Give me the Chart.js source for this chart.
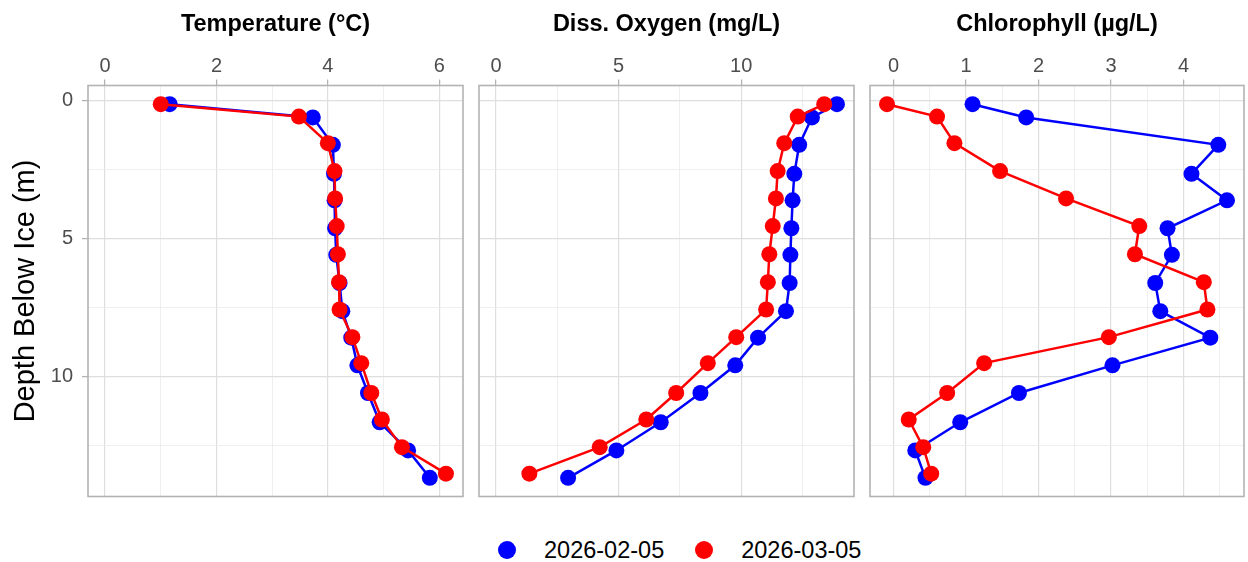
<!DOCTYPE html>
<html>
<head>
<meta charset="utf-8">
<script src="https://cdn.jsdelivr.net/npm/chart.js@4.4.1/dist/chart.umd.min.js"></script>
<style>
  body { margin: 0; background: #fff; }
  #wrap { position: relative; width: 1248px; height: 562px; font-family: "Liberation Sans", Arial, sans-serif; }
  #wrap canvas { position: absolute; top: 0; }
  #legend { position: absolute; left: 498px; top: 538px; display: flex; align-items: center; font-size: 23.5px; line-height: 24px; color: #000; }
  .item { display: flex; align-items: center; margin-right: 31px; }
  .dot { width: 18px; height: 18px; border-radius: 50%; margin-right: 28px; }
</style>
</head>
<body>
<div id="wrap">
  <canvas id="c-temp" width="470" height="500" style="left:0px"></canvas>
  <canvas id="c-do" width="390" height="500" style="left:471px"></canvas>
  <canvas id="c-chl" width="386" height="500" style="left:862px"></canvas>
  <div id="legend"></div>
</div>
<script>
// sampling dates and colours
const dates = ['2026-02-05', '2026-03-05'];
const colors = ['#0000ff', '#ff0000'];

// depth below ice (m) for each profile
const depthFeb = [0.14, 0.62, 1.61, 2.66, 3.62, 4.63, 5.59, 6.61, 7.63, 8.59, 9.59, 10.59, 11.65, 12.67, 13.66];
const depthMar = [0.14, 0.59, 1.55, 2.56, 3.55, 4.55, 5.57, 6.58, 7.57, 8.57, 9.51, 10.59, 11.55, 12.55, 13.51];

// temperature (°C)
const tempFeb = [1.16, 3.73, 4.09, 4.11, 4.12, 4.13, 4.15, 4.21, 4.26, 4.42, 4.53, 4.72, 4.93, 5.44, 5.83];
const tempMar = [1.00, 3.48, 4.00, 4.12, 4.13, 4.16, 4.18, 4.20, 4.21, 4.44, 4.60, 4.78, 4.97, 5.33, 6.12];

// dissolved oxygen (mg/L)
const doFeb = [13.91, 12.89, 12.37, 12.17, 12.10, 12.05, 12.01, 11.98, 11.83, 10.69, 9.76, 8.34, 6.72, 4.91, 2.94];
const doMar = [13.39, 12.31, 11.76, 11.49, 11.42, 11.29, 11.15, 11.09, 11.02, 9.80, 8.64, 7.35, 6.13, 4.23, 1.36];

// chlorophyll (µg/L)
const chlFeb = [1.09, 1.83, 4.48, 4.11, 4.60, 3.78, 3.84, 3.61, 3.68, 4.37, 3.02, 1.73, 0.92, 0.30, 0.44];
const chlMar = [-0.09, 0.60, 0.84, 1.47, 2.38, 3.39, 3.33, 4.28, 4.33, 2.97, 1.25, 0.74, 0.21, 0.41, 0.52];

// grid breaks and labelled breaks
const depthTicks = [0, 2.5, 5, 7.5, 10, 12.5];
const depthLabels = [0, 5, 10];
const tempTicks = [0, 1, 2, 3, 4, 5, 6];
const tempLabels = [0, 2, 4, 6];
const doTicks = [0, 2.5, 5, 7.5, 10, 12.5];
const doLabels = [0, 5, 10];
const chlTicks = [0, 0.5, 1, 1.5, 2, 2.5, 3, 3.5, 4, 4.5];
const chlLabels = [0, 1, 2, 3, 4];

const FONT = '"Liberation Sans", Arial, sans-serif';

// ggplot-like 5% expansion
function expand(vals, withZero) {
  let lo = Math.min(...vals), hi = Math.max(...vals);
  if (withZero) { lo = Math.min(lo, 0); hi = Math.max(hi, 0); }
  const pad = (hi - lo) * 0.05;
  return [lo - pad, hi + pad];
}

const yRange = expand(depthFeb.concat(depthMar), false);

function gridOpts(labels, ticksOn) {
  return {
    color: ctx => labels.includes(ctx.tick && ctx.tick.value) ? '#dedede' : '#ebebeb',
    lineWidth: ctx => labels.includes(ctx.tick && ctx.tick.value) ? 1.2 : 0.8,
    drawTicks: ticksOn,
    tickLength: 6,
    tickWidth: 1.3,
    tickColor: ctx => labels.includes(ctx.tick && ctx.tick.value) ? '#b3b3b3' : 'rgba(0,0,0,0)'
  };
}

const panelBorder = {
  id: 'panelBorder',
  beforeDatasetsDraw(chart) {
    const a = chart.chartArea, c = chart.ctx;
    c.save();
    c.strokeStyle = '#b3b3b3';
    c.lineWidth = 1.6;
    c.strokeRect(a.left, a.top, a.right - a.left, a.bottom - a.top);
    c.restore();
  }
};

function makePanel(id, title, feb, mar, ticks, labels, first, padRight) {
  const xr = expand(feb.concat(mar), true);
  const series = [
    { vals: feb, depth: depthFeb },
    { vals: mar, depth: depthMar }
  ];
  new Chart(document.getElementById(id), {
    type: 'scatter',
    data: {
      datasets: series.map((s, i) => ({
        label: dates[i],
        data: s.vals.map((v, k) => ({ x: v, y: s.depth[k] })),
        showLine: true,
        borderColor: colors[i],
        backgroundColor: colors[i],
        borderWidth: 2.5,
        pointRadius: 8,
        pointBorderWidth: 0,
        order: 1 - i,
        clip: false
      }))
    },
    options: {
      responsive: false,
      maintainAspectRatio: false,
      animation: false,
      layout: { autoPadding: false, padding: { left: 0, right: padRight, top: 0, bottom: 3.5 } },
      plugins: { legend: { display: false }, tooltip: { enabled: false } },
      scales: {
        x: {
          type: 'linear',
          position: 'top',
          min: xr[0],
          max: xr[1],
          afterBuildTicks: s => { s.ticks = ticks.map(v => ({ value: v })); },
          afterFit: s => { s.height = 85.5; s.paddingLeft = 0; s.paddingRight = 0; s.paddingTop = 0; s.paddingBottom = 0; },
          ticks: {
            autoSkip: false,
            maxRotation: 0,
            padding: 1.5,
            color: '#4d4d4d',
            font: { size: 20, family: FONT },
            callback: v => labels.includes(v) ? String(v) : ''
          },
          grid: gridOpts(labels, true),
          border: { display: false },
          title: {
            display: true,
            text: title,
            color: '#000',
            font: { size: 23.5, weight: 'bold', family: FONT },
            padding: { top: 10, bottom: 0 }
          }
        },
        y: {
          type: 'linear',
          reverse: true,
          min: yRange[0],
          max: yRange[1],
          afterBuildTicks: s => { s.ticks = depthTicks.map(v => ({ value: v })); },
          afterFit: s => { s.width = first ? 88 : 8; s.paddingLeft = 0; s.paddingRight = 0; s.paddingTop = 0; s.paddingBottom = 0; },
          ticks: {
            display: first,
            autoSkip: false,
            padding: 9,
            color: '#4d4d4d',
            font: { size: 20, family: FONT },
            callback: v => depthLabels.includes(v) ? String(v) : ''
          },
          grid: gridOpts(depthLabels, first),
          border: { display: false },
          title: {
            display: first,
            text: 'Depth Below Ice (m)',
            color: '#000',
            font: { size: 29, family: FONT },
            padding: { top: 9, bottom: 0 }
          }
        }
      }
    },
    plugins: [panelBorder]
  });
}

makePanel('c-temp', 'Temperature (°C)', tempFeb, tempMar, tempTicks, tempLabels, true, 7);
makePanel('c-do', 'Diss. Oxygen (mg/L)', doFeb, doMar, doTicks, doLabels, false, 7);
makePanel('c-chl', 'Chlorophyll (µg/L)', chlFeb, chlMar, chlTicks, chlLabels, false, 4);

// legend
const legend = document.getElementById('legend');
dates.forEach((d, i) => {
  const item = document.createElement('div');
  item.className = 'item';
  const dot = document.createElement('span');
  dot.className = 'dot';
  dot.style.background = colors[i];
  const txt = document.createElement('span');
  txt.textContent = d;
  item.appendChild(dot);
  item.appendChild(txt);
  legend.appendChild(item);
});
</script>
</body>
</html>
